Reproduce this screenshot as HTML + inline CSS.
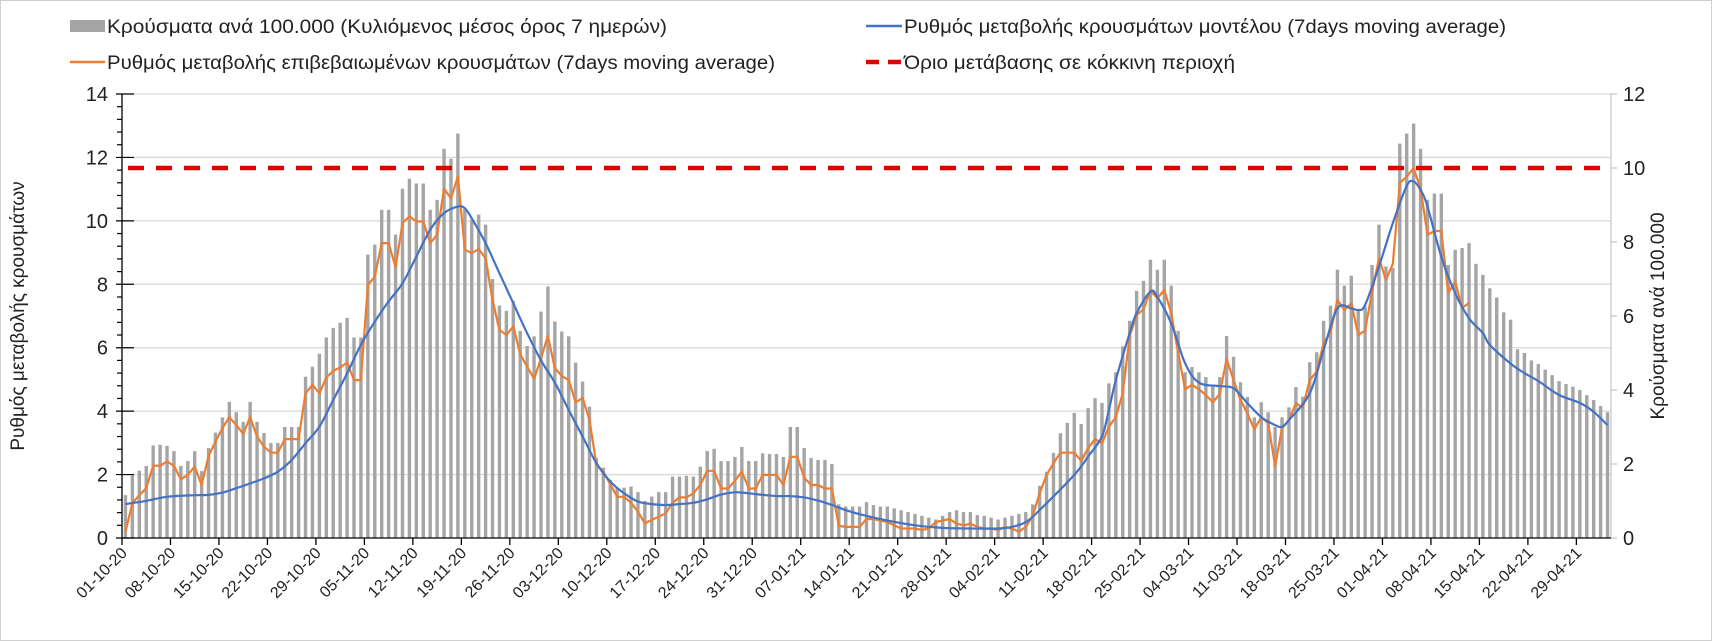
<!DOCTYPE html>
<html><head><meta charset="utf-8"><style>
html,body{margin:0;padding:0;background:#fff}
svg{display:block}
text{font-family:"Liberation Sans","DejaVu Sans",sans-serif;fill:#222}
</style></head><body>
<svg id="c" width="1712" height="641" viewBox="0 0 1712 641">
<rect x="0.5" y="0.5" width="1711" height="640" fill="#fff" stroke="#d0d0d0"/>
<g id="legend">
 <g>
  <rect x="70" y="20" width="35" height="12" fill="#a5a5a5"/>
  <text x="107" y="33" font-size="19" textLength="560" lengthAdjust="spacingAndGlyphs">Κρούσματα ανά 100.000 (Κυλιόμενος μέσος όρος 7 ημερών)</text>
 </g>
 <g>
  <line x1="70" y1="62" x2="105" y2="62" stroke="#ed7d31" stroke-width="2.5"/>
  <text x="107" y="69" font-size="19" textLength="668" lengthAdjust="spacingAndGlyphs">Ρυθμός μεταβολής επιβεβαιωμένων κρουσμάτων (7days moving average)</text>
 </g>
 <g>
  <line x1="866" y1="26" x2="902" y2="26" stroke="#4472c4" stroke-width="2.5"/>
  <text x="904" y="33" font-size="19" textLength="602" lengthAdjust="spacingAndGlyphs">Ρυθμός μεταβολής κρουσμάτων μοντέλου (7days moving average)</text>
 </g>
 <g>
  <line x1="866" y1="62" x2="902" y2="62" stroke="#e00000" stroke-width="4.5" stroke-dasharray="13,9"/>
  <text x="904" y="69" font-size="19" textLength="331" lengthAdjust="spacingAndGlyphs">Όριο μετάβασης σε κόκκινη περιοχή</text>
 </g>
</g>
<g id="grid"></g><g id="bars"></g><g id="lines"></g><g id="axes"></g>
<text font-size="19" text-anchor="middle" transform="translate(24,316) rotate(-90)">Ρυθμός μεταβολής κρουσμάτων</text>
<text font-size="19" text-anchor="middle" transform="translate(1664,316) rotate(-90)">Κρούσματα ανά 100.000</text>
</svg>
<script>
const startDate = "2020-10-01";
const dayCount = 215;
const leftTicks = [0,2,4,6,8,10,12,14];
const rightTicks = [0,2,4,6,8,10,12];
const redThreshold = 10;
const casesPer100k = [
1.16,1.70,1.82,1.95,2.50,2.52,2.49,2.35,1.95,2.08,
2.35,1.81,2.43,2.85,3.26,3.68,3.40,3.14,3.68,3.14,
2.84,2.57,2.57,3.00,3.00,3.00,4.36,4.63,4.98,5.42,
5.68,5.82,5.95,5.42,5.42,7.66,7.93,8.87,8.87,8.20,
9.44,9.71,9.58,9.58,8.87,9.14,10.52,10.25,10.93,8.90,
8.60,8.74,8.47,7.00,6.28,6.14,6.41,5.60,5.19,5.45,
6.12,6.80,5.85,5.58,5.45,4.74,4.23,3.55,2.15,1.90,
1.57,1.36,1.36,1.39,1.24,1.00,1.12,1.24,1.24,1.66,
1.66,1.68,1.66,1.93,2.35,2.41,2.08,2.08,2.19,2.46,
2.08,2.08,2.29,2.27,2.27,2.19,3.00,3.00,2.43,2.16,
2.11,2.11,2.00,0.91,0.85,0.85,0.85,0.97,0.89,0.85,
0.85,0.80,0.75,0.70,0.65,0.60,0.55,0.50,0.60,0.70,
0.75,0.70,0.70,0.62,0.60,0.55,0.50,0.55,0.60,0.65,
0.70,0.91,1.41,1.79,2.30,2.83,3.11,3.38,3.08,3.51,
3.78,3.65,4.18,4.48,5.18,5.87,6.68,6.95,7.52,7.25,
7.52,6.82,5.60,4.48,4.62,4.48,4.35,4.09,4.35,5.46,
4.90,4.21,3.81,3.26,3.67,3.40,3.00,3.26,3.53,4.08,
3.82,4.75,5.02,5.87,6.28,7.25,6.82,7.09,6.17,6.26,
7.38,8.47,7.34,7.30,10.66,10.93,11.20,10.52,9.14,9.31,
9.31,7.38,7.79,7.84,7.97,7.41,7.11,6.75,6.50,6.10,
5.90,5.10,5.00,4.80,4.70,4.55,4.40,4.24,4.16,4.09,
4.00,3.86,3.73,3.57,3.40];
const confirmedRate = [
0.20,1.10,1.35,1.57,2.28,2.28,2.41,2.28,1.85,1.99,
2.25,1.67,2.59,3.04,3.46,3.81,3.56,3.28,3.81,3.20,
2.88,2.69,2.69,3.12,3.12,3.12,4.56,4.83,4.56,5.06,
5.27,5.38,5.53,4.98,4.98,7.98,8.24,9.30,9.30,8.54,
9.93,10.14,9.98,9.98,9.30,9.56,11.01,10.71,11.40,9.09,
8.98,9.11,8.82,7.51,6.56,6.40,6.67,5.80,5.40,5.02,
5.67,6.37,5.35,5.11,4.98,4.28,4.41,3.72,2.32,2.09,
1.69,1.30,1.30,1.11,0.83,0.46,0.57,0.67,0.78,1.11,
1.28,1.28,1.41,1.67,2.12,2.12,1.56,1.56,1.80,2.09,
1.56,1.56,1.99,1.99,1.99,1.67,2.56,2.56,1.90,1.67,
1.67,1.56,1.56,0.38,0.35,0.35,0.35,0.60,0.60,0.55,
0.50,0.40,0.30,0.30,0.30,0.25,0.30,0.50,0.55,0.60,
0.45,0.40,0.45,0.35,0.30,0.30,0.25,0.35,0.30,0.20,
0.35,0.70,1.41,1.99,2.36,2.69,2.69,2.69,2.43,2.83,
3.12,2.99,3.51,3.81,4.56,6.37,7.03,7.21,7.80,7.56,
7.82,7.09,5.83,4.69,4.83,4.69,4.51,4.28,4.54,5.64,
4.98,4.35,3.93,3.43,3.81,3.62,2.27,3.46,3.72,4.25,
4.11,4.98,5.25,6.14,6.48,7.51,7.19,7.40,6.40,6.54,
7.77,8.82,8.14,8.64,11.19,11.40,11.66,11.03,9.56,9.68,
9.68,7.72,8.09,7.25,7.42];
const modelDays = [0,3,6,10,12,14,16,18,20,22,24,26,28,30,32,34,36,38,40,42,44,46,48,49,50,52,54,56,58,60,62,64,66,68,70,72,74,76,78,80,82,84,86,88,90,92,94,96,98,100,102,104,106,110,114,118,122,126,128,130,132,137,139,141,142,143,145,146,148,149,151,153,155,158,160,162,164,166,167,168,171,173,175,177,178,179,181,183,185,186,187,188,190,192,194,196,197,200,202,204,207,210,212,214];
const modelRate = [1.07,1.17,1.30,1.35,1.36,1.43,1.57,1.72,1.88,2.09,2.46,2.99,3.51,4.35,5.19,6.09,6.82,7.46,8.03,8.87,9.72,10.24,10.45,10.40,10.08,9.30,8.35,7.40,6.46,5.60,4.90,4.04,3.20,2.36,1.78,1.41,1.15,1.07,1.04,1.07,1.11,1.22,1.37,1.44,1.41,1.36,1.32,1.32,1.28,1.18,1.04,0.88,0.75,0.55,0.40,0.32,0.30,0.30,0.35,0.50,0.88,1.99,2.57,3.20,4.04,4.98,6.46,7.09,7.77,7.60,6.77,5.51,4.90,4.79,4.72,4.25,3.81,3.56,3.51,3.72,4.56,5.93,7.24,7.24,7.19,7.35,8.56,9.93,11.10,11.24,10.98,10.45,8.87,7.72,6.93,6.46,6.09,5.50,5.20,4.95,4.51,4.26,3.98,3.56];

const NS="http://www.w3.org/2000/svg";
const svg=document.getElementById('c');
const X0=122, X1=1611, Y0=538, Y1=94;
const dayW=(X1-X0)/dayCount;
function xDay(i){return X0+(i+0.5)*dayW;}
function yLeft(v){return Y0-(v/14)*(Y0-Y1);}
function yRight(v){return Y0-(v/12)*(Y0-Y1);}
function mk(tag,attrs,parent){const e=document.createElementNS(NS,tag);for(const k in attrs)e.setAttribute(k,attrs[k]);parent.appendChild(e);return e;}
const gGrid=document.getElementById('grid'),gBars=document.getElementById('bars'),gLines=document.getElementById('lines'),gAxes=document.getElementById('axes');
leftTicks.forEach(v=>{
  if(v>0){const l=mk('line',{x1:X0,x2:X1,y1:yLeft(v),y2:yLeft(v),stroke:'#d9d9d9','stroke-width':1.3},gGrid);
  
  }
  const t=mk('text',{x:X0-14,y:yLeft(v)+7,'font-size':20,'text-anchor':'end'},gAxes);t.textContent=v;
  
  
});
rightTicks.forEach(v=>{
  const t=mk('text',{x:X1+12,y:yRight(v)+7,'font-size':20},gAxes);t.textContent=v;
  
  
  mk('line',{x1:X1,x2:X1+6,y1:yRight(v),y2:yRight(v),stroke:'#bbb'},gAxes);
});
casesPer100k.forEach((v,i)=>{
  const r=mk('rect',{x:xDay(i)-1.7,y:yRight(v),width:3.4,height:Y0-yRight(v),fill:'#a5a5a5'},gBars);
  
  
});
// threshold
const th=mk('line',{x1:X0+6,x2:X1,y1:yRight(redThreshold),y2:yRight(redThreshold),stroke:'#e00000','stroke-width':4.5,'stroke-dasharray':'16,12'},gLines);


// orange
let d='';confirmedRate.forEach((v,i)=>{d+=(i?'L':'M')+xDay(i).toFixed(1)+','+yLeft(v).toFixed(1);});
const po=mk('path',{d:d,fill:'none',stroke:'#ed7d31','stroke-width':2.2,'stroke-linejoin':'round'},gLines);


// blue smooth
const pts=modelDays.map((dd,k)=>[xDay(dd),yLeft(modelRate[k])]);
let db='M'+pts[0][0]+','+pts[0][1];
for(let k=0;k<pts.length-1;k++){const p0=pts[Math.max(0,k-1)],p1=pts[k],p2=pts[k+1],p3=pts[Math.min(pts.length-1,k+2)];
 const c1=[p1[0]+(p2[0]-p0[0])/6,p1[1]+(p2[1]-p0[1])/6],c2=[p2[0]-(p3[0]-p1[0])/6,p2[1]-(p3[1]-p1[1])/6];
 db+='C'+c1[0].toFixed(1)+','+c1[1].toFixed(1)+' '+c2[0].toFixed(1)+','+c2[1].toFixed(1)+' '+p2[0].toFixed(1)+','+p2[1].toFixed(1);}
const pb=mk('path',{d:db,fill:'none',stroke:'#4472c4','stroke-width':2.2},gLines);


// axes
mk('line',{x1:X0,x2:X0,y1:Y1,y2:Y0,stroke:'#000','stroke-width':1.3},gAxes);
mk('line',{x1:X1,x2:X1,y1:Y1,y2:Y0,stroke:'#bbb','stroke-width':1},gAxes);
mk('line',{x1:X0,x2:X1,y1:Y0,y2:Y0,stroke:'#000','stroke-width':1.3},gAxes);
for(let v=0;v<=14.01;v+=0.4){const y=yLeft(v);const big=Math.abs(v/2-Math.round(v/2))<0.01;mk('line',{x1:X0-(big?6:5),x2:X0+(big?12:0),y1:y,y2:y,stroke:'#000','stroke-width':1.2},gAxes);}
const base=new Date(startDate+"T00:00:00Z");
for(let i=0;i<dayCount;i+=7){
  const x=X0+i*dayW;
  mk('line',{x1:x,x2:x,y1:Y0,y2:Y0+7,stroke:'#000','stroke-width':1.3},gAxes);
  const dt=new Date(base.getTime()+i*864e5);
  const s=String(dt.getUTCDate()).padStart(2,'0')+'-'+String(dt.getUTCMonth()+1).padStart(2,'0')+'-'+String(dt.getUTCFullYear()%100).padStart(2,'0');
  const t=mk('text',{x:0,y:0,'font-size':16,'text-anchor':'end',transform:'translate('+(x+6)+','+(Y0+16)+') rotate(-45)'},gAxes);
  t.textContent=s;
  
  
}
</script>
</body></html>
